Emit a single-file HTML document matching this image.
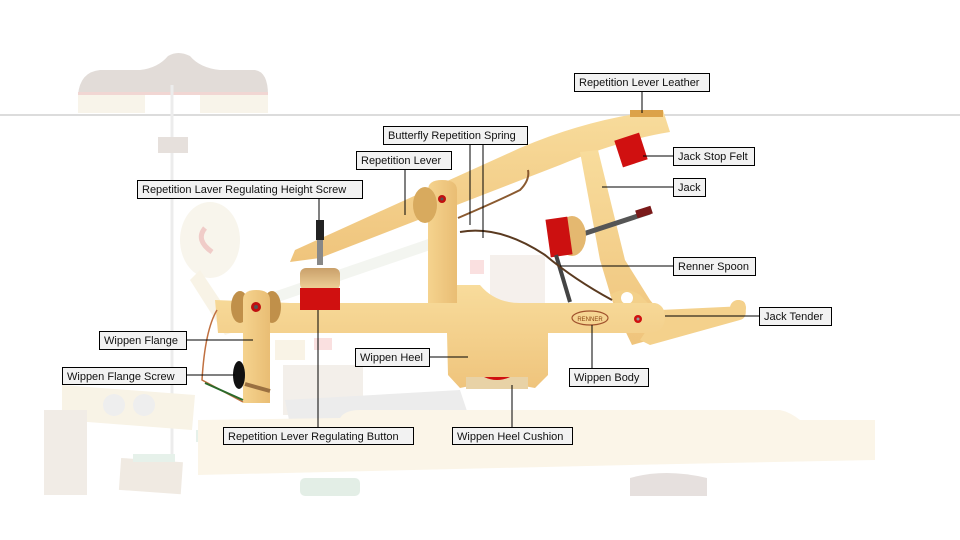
<!DOCTYPE html>
<html><head><meta charset="utf-8"><style>
body{margin:0;background:#fff;width:960px;height:540px;overflow:hidden}
svg{display:block}
.lb rect{fill:#f2f2f2;stroke:#000;stroke-width:1}
.lb text{font-family:"Liberation Sans",sans-serif;font-size:11px;fill:#111}
.ln{stroke:#000;stroke-width:1;fill:none}
</style></head><body>
<svg width="960" height="540" viewBox="0 0 960 540" xmlns="http://www.w3.org/2000/svg">
<defs>
<linearGradient id="w" x1="0" y1="0" x2="0" y2="1"><stop offset="0" stop-color="#f8dc9c"/><stop offset="1" stop-color="#efc47c"/></linearGradient>
<linearGradient id="wv" x1="0" y1="0" x2="1" y2="0"><stop offset="0" stop-color="#f5d38e"/><stop offset="1" stop-color="#e9bd74"/></linearGradient>
<linearGradient id="cap" x1="0" y1="0" x2="0" y2="1"><stop offset="0" stop-color="#c9a06a"/><stop offset="1" stop-color="#f1d29a"/></linearGradient>
</defs>
<!-- faded background hammer -->
<path d="M78 95 Q80 72 100 70 L140 70 Q158 68 168 56 Q178 50 190 56 Q200 68 220 70 L255 70 Q268 72 268 95 Z" fill="#e2dcd8"/>
<rect x="78" y="92" width="190" height="3" fill="#f1d6d3"/>
<rect x="78" y="95" width="67" height="18" fill="#f8f4ea"/>
<rect x="200" y="95" width="68" height="18" fill="#f8f4ea"/>
<line x1="0" y1="115" x2="960" y2="115" stroke="#dcdcdc" stroke-width="2"/>
<line x1="172" y1="85" x2="172" y2="480" stroke="#ececec" stroke-width="3"/>
<rect x="158" y="137" width="30" height="16" fill="#e6e0dc"/>
<ellipse cx="210" cy="240" rx="30" ry="38" fill="#f8f5ec"/>
<path d="M205 228 Q195 240 212 252" stroke="#f0ccc8" stroke-width="5" fill="none"/>
<path d="M200 270 L240 330 L225 335 L190 280 Z" fill="#f8f3e6"/>
<!-- faded left assembly -->
<path d="M62 385 L195 395 L192 430 L62 420 Z" fill="#f8f3e6"/>
<circle cx="114" cy="405" r="11" fill="#eeeeee"/><circle cx="144" cy="405" r="11" fill="#eeeeee"/>
<rect x="44" y="410" width="43" height="85" fill="#f1ece6"/>
<rect x="120" y="460" width="62" height="32" fill="#f0eae2" transform="rotate(4 150 475)"/>
<rect x="133" y="454" width="42" height="8" fill="#e6f1ea"/>
<rect x="196" y="430" width="30" height="12" fill="#e6f1ea"/>
<!-- faded middle machine -->
<rect x="283" y="365" width="80" height="50" fill="#f3efea"/>
<path d="M285 400 L460 390 L470 420 L290 425 Z" fill="#ececec"/>
<path d="M490 255 L545 255 L545 310 L490 310 Z" fill="#f5f0ec"/>
<rect x="470" y="260" width="14" height="14" fill="#fae0e0"/>
<rect x="275" y="340" width="30" height="20" fill="#f9f3e6"/>
<rect x="314" y="338" width="18" height="12" fill="#fae0e0"/>
<path d="M250 300 L440 235 L445 245 L255 310 Z" fill="#f3f5f0"/>
<!-- key -->
<path d="M198 420 L340 418 Q345 410 360 410 L780 410 Q790 412 800 420 L875 420 L875 460 L630 465 L198 475 Z" fill="#fbf5e8"/>
<rect x="300" y="478" width="60" height="18" rx="5" fill="#e3eee6"/>
<path d="M630 496 L630 478 Q665 468 707 478 L707 496 Z" fill="#e6e0de"/>
<!-- repetition lever -->
<path d="M290 262 L295 250 L520 148 Q590 118 663 110 L670 132 Q620 140 560 165 L320 258 Z" fill="url(#w)"/>
<rect x="630" y="110" width="33" height="7" fill="#dca24a"/>
<rect x="316" y="220" width="8" height="20" fill="#222"/>
<rect x="317" y="240" width="6" height="25" fill="#888"/>
<!-- jack -->
<path d="M580 152 L598 150 L625 260 L650 300 L660 312 L745 312 Q748 300 738 300 Q730 302 730 310 L665 312 L650 340 L632 345 L620 320 L612 300 L600 260 Z" fill="url(#w)"/>
<path d="M610 295 Q625 285 640 295 L650 305 L620 310 Z" fill="#f3d08a"/>
<path d="M660 310 L745 306 Q748 318 740 320 L650 345 L640 340 Z" fill="#f4d18c"/>
<circle cx="738" cy="308" r="8" fill="#f4d18c"/>
<circle cx="627" cy="298" r="6" fill="#fff"/>
<rect x="618" y="136" width="26" height="28" fill="#d01010" transform="rotate(-18 631 150)"/>
<!-- spoon/renner -->
<line x1="580" y1="235" x2="650" y2="212" stroke="#555" stroke-width="5"/>
<rect x="636" y="208" width="16" height="8" fill="#7a1a1a" transform="rotate(-18 644 212)"/>
<ellipse cx="572" cy="236" rx="14" ry="20" fill="#e4b870"/>
<rect x="548" y="218" width="22" height="38" fill="#cc1010" transform="rotate(-8 559 237)"/>
<line x1="556" y1="255" x2="570" y2="302" stroke="#444" stroke-width="4"/>
<path d="M460 232 Q500 225 545 255 Q575 280 612 300" stroke="#5a3a20" stroke-width="2" fill="none"/>
<path d="M458 218 Q500 200 520 190 Q530 180 528 170" stroke="#8a5a30" stroke-width="2" fill="none"/>
<!-- wippen body -->
<path d="M215 300 L290 303 L430 303 L430 285 L480 285 Q495 303 520 303 L655 303 Q665 305 665 318 Q664 332 650 333 L548 333 L548 375 L535 388 Q497 380 460 388 L448 375 L447 333 L270 333 L218 333 Z" fill="url(#w)"/>
<rect x="466" y="377" width="62" height="12" fill="#e8d2a6"/>
<path d="M484 377 Q497 383 510 377 Z" fill="#d01010"/>
<ellipse cx="590" cy="318" rx="18" ry="7" fill="none" stroke="#a0522d" stroke-width="1.2"/>
<text x="590" y="321" font-family="Liberation Sans,sans-serif" font-size="6" fill="#8b4513" text-anchor="middle">RENNER</text>
<circle cx="638" cy="319" r="4" fill="#d01010"/><circle cx="638" cy="319" r="1.5" fill="#999"/>
<!-- post -->
<path d="M428 190 Q428 180 442 180 Q457 180 457 190 L457 303 L428 303 Z" fill="url(#wv)"/>
<ellipse cx="425" cy="205" rx="12" ry="18" fill="#d8aa5e"/>
<circle cx="442" cy="199" r="4" fill="#c01010"/><circle cx="442" cy="199" r="1.5" fill="#555"/>
<!-- button -->
<rect x="300" y="268" width="40" height="22" rx="6" fill="url(#cap)"/>
<rect x="300" y="288" width="40" height="22" fill="#d01010"/>
<!-- flange -->
<ellipse cx="240" cy="307" rx="9" ry="16" fill="#c0904a"/><ellipse cx="272" cy="307" rx="9" ry="16" fill="#c0904a"/>
<path d="M243 300 Q243 290 256 290 Q270 290 270 300 L270 403 L243 403 Z" fill="url(#wv)"/>
<circle cx="256" cy="307" r="5" fill="#c01010"/><circle cx="256" cy="307" r="2" fill="#555"/>
<ellipse cx="239" cy="375" rx="6" ry="14" fill="#111"/>
<line x1="245" y1="384" x2="270" y2="391" stroke="#9a7040" stroke-width="4"/>
<path d="M217 310 Q205 330 202 380 L243 402" stroke="#c07040" stroke-width="1.5" fill="none"/>
<path d="M205 383 L243 400" stroke="#2a6a2a" stroke-width="2"/>
<!-- leader lines -->
<path class="ln" d="M642 91V113 M470 144V225 M483 144V238 M405 169V215 M643 156H673 M602 187H673 M319 198V220 M560 266H673 M665 316H759 M186 340H253 M429 357H468 M186 375H235 M592 325V368 M318 310V427 M512 385V427"/>
<!-- labels -->
<g class="lb">
<rect x="574.5" y="73.5" width="135" height="18"/><text x="579" y="86">Repetition Lever Leather</text>
<rect x="383.5" y="126.5" width="144" height="18"/><text x="388" y="139">Butterfly Repetition Spring</text>
<rect x="356.5" y="151.5" width="95" height="18"/><text x="361" y="164">Repetition Lever</text>
<rect x="673.5" y="147.5" width="81" height="18"/><text x="678" y="160">Jack Stop Felt</text>
<rect x="673.5" y="178.5" width="32" height="18"/><text x="678" y="191">Jack</text>
<rect x="137.5" y="180.5" width="225" height="18"/><text x="142" y="193">Repetition Laver Regulating Height Screw</text>
<rect x="673.5" y="257.5" width="82" height="18"/><text x="678" y="270">Renner Spoon</text>
<rect x="759.5" y="307.5" width="72" height="18"/><text x="764" y="320">Jack Tender</text>
<rect x="99.5" y="331.5" width="87" height="18"/><text x="104" y="344">Wippen Flange</text>
<rect x="355.5" y="348.5" width="74" height="18"/><text x="360" y="361">Wippen Heel</text>
<rect x="62.5" y="367.5" width="124" height="17"/><text x="67" y="380">Wippen Flange Screw</text>
<rect x="569.5" y="368.5" width="79" height="18"/><text x="574" y="381">Wippen Body</text>
<rect x="223.5" y="427.5" width="190" height="17"/><text x="228" y="440">Repetition Lever Regulating Button</text>
<rect x="452.5" y="427.5" width="120" height="17"/><text x="457" y="440">Wippen Heel Cushion</text>
</g>
</svg>
</body></html>
